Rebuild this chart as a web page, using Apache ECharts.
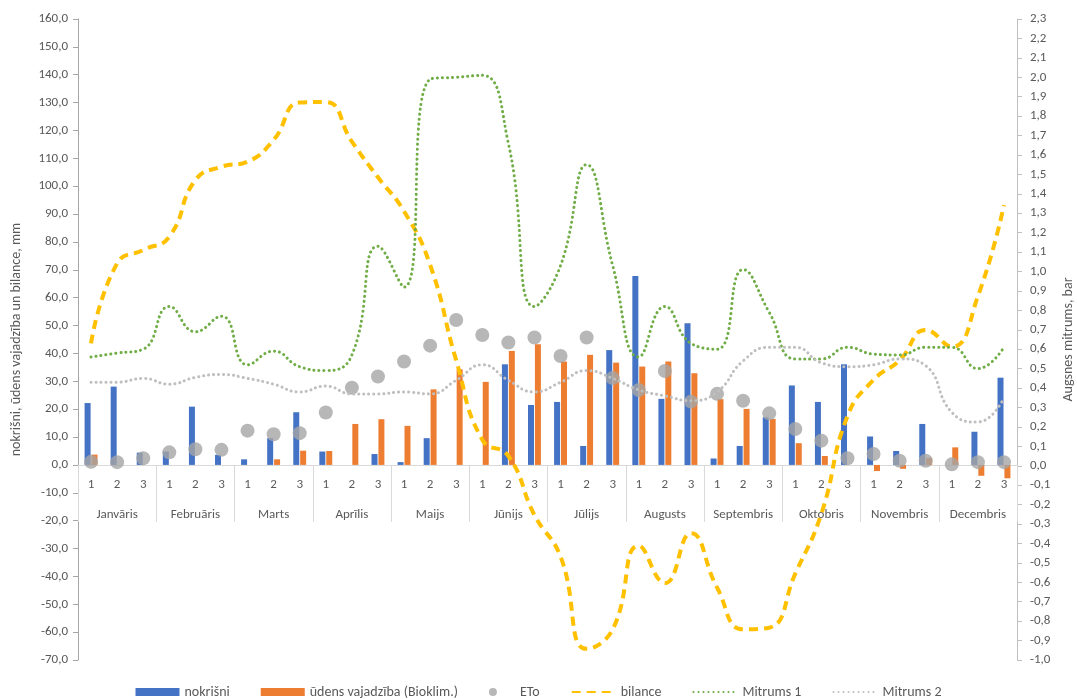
<!DOCTYPE html>
<html>
<head>
<meta charset="utf-8">
<script src="https://cdn.jsdelivr.net/npm/echarts@6/dist/echarts.min.js"></script>
<style>
  html, body { margin: 0; padding: 0; background: #ffffff; }
  #chart { width: 1077px; height: 699px; }
</style>
</head>
<body>
<div id="chart"></div>
<script>
// Months and their three ten-day periods (dekādes)
const months = ['Janvāris', 'Februāris', 'Marts', 'Aprīlis', 'Maijs', 'Jūnijs',
                'Jūlijs', 'Augusts', 'Septembris', 'Oktobris', 'Novembris', 'Decembris'];
const decadeLabels = ['1', '2', '3'];

// Left axis range and step, mm; right axis range and step, bar
const leftMin = -70, leftMax = 160, leftStep = 10;
const rightMin = -1.0, rightMax = 2.3, rightStep = 0.1;

// Precipitation per ten-day period, mm
const nokrisni = [22.2, 28.1, 4.4,  4.8, 20.9, 3.6,  2.0, 9.6, 18.9,  4.8, 0, 3.9,
                  1.0, 9.6, 0,  0, 36.1, 21.5,  22.6, 6.8, 41.2,  67.8, 23.7, 50.8,
                  2.3, 6.8, 17.1,  28.5, 22.6, 36.1,  10.2, 5.0, 14.7,  0, 11.9, 31.3];

// Crop water demand (Bioklim.), mm
const udensVajadziba = [3.7, 0, 0,  0, 0, 0,  0, 2.0, 5.1,  5.0, 14.7, 16.4,
                        14.0, 27.1, 34.3,  29.8, 40.9, 43.3,  37.1, 39.5, 36.7,  35.3, 37.1, 32.9,
                        23.6, 20.1, 16.5,  7.8, 3.2, 0,  -2.2, -1.4, 2.5,  6.3, -3.9, -4.8];

// Reference evapotranspiration, mm
const eto = [1.1, 1.0, 2.4,  4.5, 5.6, 5.4,  12.3, 11.0, 11.4,  18.8, 27.7, 31.7,
             37.1, 42.8, 52.0,  46.6, 43.9, 45.7,  39.1, 45.7, 31.2,  26.9, 33.7, 22.7,
             25.5, 23.0, 18.5,  12.9, 8.7, 2.4,  3.9, 1.5, 1.5,  0.2, 1.0, 1.0];

// Cumulative water balance, mm
const bilance = [43.6, 72.3, 77.1,  81.9, 102.2, 107.0,  108.8, 116.6, 130.0,  130.2, 116.0, 103.2,
                 91.0, 71.8, 37.5,  9.0, 3.2, -18.0,  -32.9, -66.0, -59.0,  -29.0, -42.4, -24.5,
                 -44.0, -59.0, -58.4,  -39.0, -17.5, 17.5,  30.5, 37.5, 48.4,  42.4, 60.5, 93.2];

// Soil moisture tension, bar
const mitrums1 = [0.56, 0.58, 0.60,  0.82, 0.69, 0.77,  0.52, 0.59, 0.51,  0.49, 0.57, 1.13,
                  0.92, 1.99, 2.00,  2.01, 1.66, 0.82,  1.03, 1.55, 1.03,  0.56, 0.82, 0.63,
                  0.60, 1.01, 0.79,  0.55, 0.55, 0.61,  0.575, 0.57, 0.61,  0.61, 0.50, 0.61];

const mitrums2 = [0.43, 0.43, 0.45,  0.42, 0.455, 0.47,  0.45, 0.42, 0.38,  0.41, 0.37, 0.37,
                  0.38, 0.37, 0.44,  0.52, 0.44, 0.38,  0.43, 0.49, 0.45,  0.39, 0.36, 0.335,
                  0.38, 0.54, 0.61,  0.61, 0.53, 0.51,  0.52, 0.55, 0.515,  0.275, 0.225, 0.35];

// One category per ten-day period; month name is written under the middle one
const decadeAxis = [];
months.forEach(() => decadeLabels.forEach(d => decadeAxis.push(d)));

const FONT = 'Carlito, Lato, sans-serif';
const TEXT = '#595959';
const fmt = v => (Math.abs(v) < 1e-9 ? 0 : v).toFixed(1).replace('.', ',');
const hideMarker = { opacity: 0 };

// Plot area in pixels
const GRID = { left: 78, right: 60, top: 19, bottom: 39 };
const CHART_H = 699;
const plotH = CHART_H - GRID.top - GRID.bottom;
// Category axis sits on the zero line of the left axis: shift it up from the plot bottom
const zeroShift = plotH * (0 - leftMin) / (leftMax - leftMin);

const chart = echarts.init(document.getElementById('chart'), null, { renderer: 'canvas' });

chart.setOption({
  animation: false,
  backgroundColor: '#ffffff',
  textStyle: { fontFamily: FONT },
  grid: Object.assign({ outerBoundsMode: 'none' }, GRID),
  legend: {
    top: 680,
    left: 'center',
    itemWidth: 44,
    itemHeight: 8,
    itemGap: 31,
    textStyle: { color: TEXT, fontSize: 14, fontFamily: FONT },
    data: [
      { name: 'nokrišni', icon: 'rect' },
      { name: 'ūdens vajadzība (Bioklim.)', icon: 'rect' },
      { name: 'ETo', icon: 'circle' },
      { name: 'bilance', itemStyle: hideMarker },
      { name: 'Mitrums 1', itemStyle: hideMarker },
      { name: 'Mitrums 2', itemStyle: hideMarker }
    ]
  },
  xAxis: {
    type: 'category',
    position: 'bottom',
    offset: -zeroShift,
    data: decadeAxis,
    axisLine: { onZero: false, lineStyle: { color: '#d9d9d9', width: 1 } },
    axisTick: {
      show: true,
      interval: i => i % 3 === 0,
      length: 57,
      lineStyle: { color: '#d9d9d9', width: 1 }
    },
    axisLabel: {
      interval: 0,
      margin: 12,
      lineHeight: 16,
      color: TEXT,
      fontSize: 13,
      fontFamily: FONT,
      formatter: (value, index) =>
        index % 3 === 1 ? value + '\n{m|' + months[Math.floor(index / 3)] + '}' : value,
      rich: { m: { lineHeight: 43, fontSize: 13, color: TEXT, fontFamily: FONT } }
    },
    splitLine: { show: false }
  },
  yAxis: [
    {
      type: 'value',
      position: 'left',
      min: leftMin,
      max: leftMax,
      interval: leftStep,
      name: 'nokrišni, ūdens vajadzība un bilance, mm',
      nameLocation: 'middle',
      nameGap: 55,
      nameTextStyle: { color: TEXT, fontSize: 14, fontFamily: FONT },
      axisLine: { show: true, lineStyle: { color: '#a6a6a6', width: 1 } },
      axisTick: { show: true, length: 5, lineStyle: { color: '#a6a6a6' } },
      axisLabel: { formatter: fmt, margin: 10, color: TEXT, fontSize: 13, fontFamily: FONT },
      splitLine: { show: false }
    },
    {
      type: 'value',
      position: 'right',
      min: rightMin,
      max: rightMax,
      interval: rightStep,
      name: 'Augsnes mitrums, bar',
      nameLocation: 'middle',
      nameGap: 42,
      nameTextStyle: { color: TEXT, fontSize: 14, fontFamily: FONT },
      axisLine: { show: true, lineStyle: { color: '#bfbfbf', width: 1 } },
      axisTick: { show: true, length: 5, lineStyle: { color: '#bfbfbf' } },
      axisLabel: { formatter: fmt, margin: 13, color: TEXT, fontSize: 13, fontFamily: FONT },
      splitLine: { show: false }
    }
  ],
  series: [
    {
      name: 'nokrišni',
      type: 'bar',
      yAxisIndex: 0,
      data: nokrisni,
      barWidth: 6,
      barGap: '15%',
      itemStyle: { color: '#4472C4' }
    },
    {
      name: 'ūdens vajadzība (Bioklim.)',
      type: 'bar',
      yAxisIndex: 0,
      data: udensVajadziba,
      barWidth: 6,
      barGap: '15%',
      itemStyle: { color: '#ED7D31' }
    },
    {
      name: 'ETo',
      type: 'scatter',
      yAxisIndex: 0,
      data: eto,
      symbol: 'circle',
      symbolSize: 14,
      itemStyle: { color: '#A5A5A5' }
    },
    {
      name: 'bilance',
      type: 'line',
      yAxisIndex: 0,
      data: bilance,
      smooth: 0.5,
      symbol: 'none',
      itemStyle: { color: '#FFC000' },
      lineStyle: { color: '#FFC000', width: 4, type: [9, 6], cap: 'butt' }
    },
    {
      name: 'Mitrums 1',
      type: 'line',
      yAxisIndex: 1,
      data: mitrums1,
      smooth: 0.5,
      symbol: 'none',
      itemStyle: { color: '#70AD47' },
      lineStyle: { color: '#70AD47', width: 3, type: [0.1, 4.9], cap: 'round' }
    },
    {
      name: 'Mitrums 2',
      type: 'line',
      yAxisIndex: 1,
      data: mitrums2,
      smooth: 0.5,
      symbol: 'none',
      itemStyle: { color: '#BFBFBF' },
      lineStyle: { color: '#BFBFBF', width: 3, type: [0.1, 4.9], cap: 'round' }
    }
  ]
});
</script>
</body>
</html>
